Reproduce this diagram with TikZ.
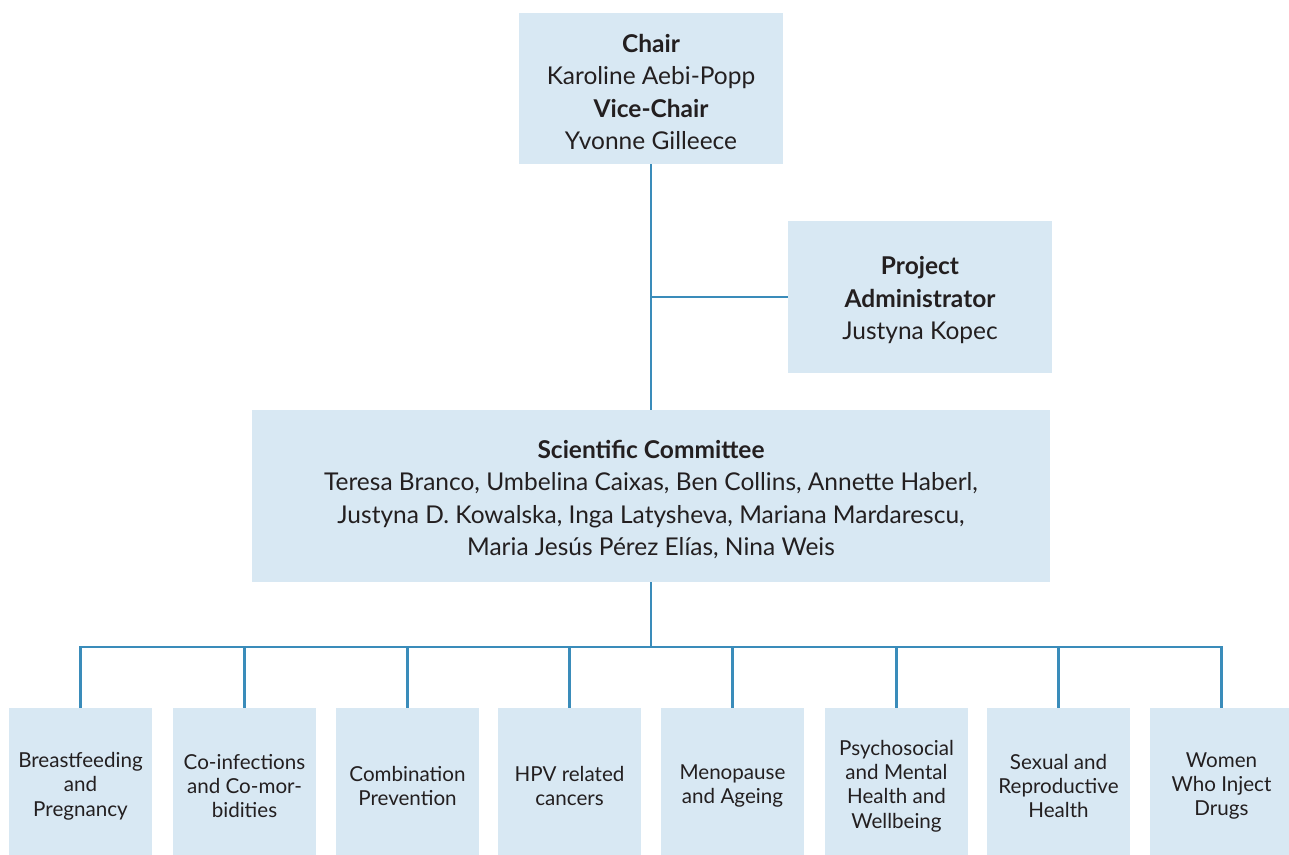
\documentclass[tikz,border=0pt]{standalone}
\usepackage{fontspec}
\setmainfont{Lato}
\definecolor{boxfill}{HTML}{D8E8F3}
\definecolor{linecol}{HTML}{3A8CBA}
\definecolor{txt}{HTML}{231F20}
\begin{document}
\begin{tikzpicture}[x=1pt,y=-1pt,
  box/.style={rectangle,fill=boxfill,inner sep=0pt},
  boxtext/.style={align=center,text=txt,inner sep=0pt,yshift=-3.5pt,
    font=\fontsize{24.5}{32.5}\selectfont},
  smallbox/.style={rectangle,fill=boxfill,inner sep=0pt,align=center,text=txt,
    minimum width=143pt,minimum height=156pt,
    font=\fontsize{20.6}{24.3}\selectfont},
  conn/.style={draw=linecol,line width=2.8pt}]
\useasboundingbox (0,0) rectangle (1289,854);
\node[box,minimum width=264pt,minimum height=151pt,
  label={[boxtext]center:{\textbf{Chair}\\Karoline Aebi-Popp\\\textbf{Vice-Chair}\\Yvonne Gilleece}}] (top) at (651,88.5) {};
\node[box,minimum width=264pt,minimum height=152pt,
  label={[boxtext]center:{\textbf{Project}\\\textbf{Administrator}\\Justyna Kopec}}] (pa) at (920,297) {};
\node[box,minimum width=798pt,minimum height=172pt,
  label={[boxtext]center:{\textbf{Scientific Committee}\\Teresa Branco, Umbelina Caixas, Ben Collins, Annette Haberl,\\Justyna D. Kowalska, Inga Latysheva, Mariana Mardarescu,\\Maria Jesús Pérez Elías, Nina Weis}}] (sc) at (651,496) {};
\node[smallbox] (b1) at (80.5,786) {Breastfeeding\\and\\Pregnancy};
\node[smallbox] (b2) at (244.5,786) {Co-infections\\and Co-mor-\\bidities};
\node[smallbox] (b3) at (407.5,786) {Combination\\Prevention};
\node[smallbox] (b4) at (569.5,786) {HPV related\\cancers};
\node[smallbox] (b5) at (732.5,786) {Menopause\\and Ageing};
\node[smallbox] (b6) at (896.5,786) {Psychosocial\\and Mental\\Health and\\Wellbeing};
\node[smallbox] (b7) at (1058.5,786) {Sexual and\\Reproductive\\Health};
\node[smallbox] (b8) at (1221.5,786) {Women\\Who Inject\\Drugs};
\coordinate (bus) at (651,647);
\draw[conn] (top.south) -- (sc.north);
\draw[conn] (top.south |- pa.west) -- (pa.west);
\draw[conn] (sc.south) -- (bus);
\draw[conn] (b1.north) -- (b1.north |- bus) -- (b8.north |- bus) -- (b8.north);
\foreach \b in {b2,b3,b4,b5,b6,b7}{\draw[conn] (\b.north |- bus) -- (\b.north);}
\end{tikzpicture}
\end{document}
